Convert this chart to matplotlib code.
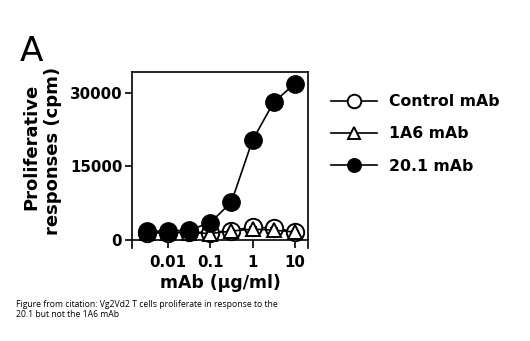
import matplotlib
matplotlib.use("Agg")
import matplotlib.pyplot as plt
from matplotlib.lines import Line2D
from matplotlib.ticker import LogLocator, NullFormatter, FixedLocator

plt.rcParams['font.family'] = ['DejaVu Sans']

# Antibody concentrations (ug/ml), half-log dilutions
conc = [0.00316, 0.01, 0.0316, 0.1, 0.316, 1.0, 3.16, 10.0]

# Proliferative responses (cpm)
control_mab = [1500, 1500, 1600, 1500, 1900, 2600, 2400, 1700]
control_err = [200, 200, 200, 300, 300, 500, 400, 300]
a1a6_mab = [1400, 1400, 1500, 1300, 1800, 2200, 2000, 1600]
a1a6_err = [200, 200, 200, 300, 300, 400, 400, 300]
mab_201 = [1800, 1800, 2000, 3500, 7700, 20300, 28000, 31800]

series_labels = ["Control mAb", "1A6 mAb", "20.1 mAb"]
y_label_lines = ["Proliferative", "responses (cpm)"]
y_ticks = [0, 15000, 30000]
x_ticks = [0.01, 0.1, 1, 10]
x_ticklabels = ["0.01", "0.1", "1", "10"]

fig = plt.figure(figsize=(5.30, 3.41), dpi=100)
ax = fig.add_axes([0.249, 0.273, 0.332, 0.516])

ms = 12.5
styles = [
    dict(marker='o', ms=ms, mfc='white', mec='black', mew=1.4),
    dict(marker='^', ms=ms * 0.85, mfc='white', mec='black', mew=1.4),
    dict(marker='o', ms=ms, mfc='black', mec='black', mew=1.0),
]

ax.errorbar(conc, control_mab, yerr=control_err, color='black', lw=1.2,
            capsize=3, elinewidth=1.0, zorder=3, **styles[0])
ax.errorbar(conc, a1a6_mab, yerr=a1a6_err, color='black', lw=1.2,
            capsize=3, elinewidth=1.0, zorder=4, **styles[1])
ax.plot(conc, mab_201, color='black', lw=1.2, zorder=5, **styles[2])

ax.set_xscale('log')
ax.set_xlim(0.0014, 20.5)
ax.set_ylim(-1630, 34200)

# Prism-style frame: x axis drawn through y = 0
ax.spines['bottom'].set_position(('data', 0))
for s in ax.spines.values():
    s.set_linewidth(1.2)

ax.xaxis.set_major_locator(FixedLocator(x_ticks))
ax.set_xticklabels(x_ticklabels)
ax.xaxis.set_minor_locator(LogLocator(base=10, subs=range(2, 10)))
ax.xaxis.set_minor_formatter(NullFormatter())
ax.set_yticks(y_ticks)
ax.set_yticklabels([str(v) for v in y_ticks])

ax.tick_params(axis='x', which='major', direction='out', length=6, width=1.2,
               labelsize=10.8, pad=5)
ax.tick_params(axis='x', which='minor', direction='out', length=3, width=1.0)
ax.tick_params(axis='y', which='major', direction='out', length=5, width=1.2,
               labelsize=10.8, pad=2)
for lbl in ax.get_xticklabels() + ax.get_yticklabels():
    lbl.set_fontweight('bold')

ax.set_xlabel("mAb (\u03bcg/ml)", fontsize=12.4, fontweight='bold', labelpad=3)

# Two-line y-axis title, one text per line
fig.text(31 / 530, 1 - 147 / 341, y_label_lines[0], rotation=90,
         ha='center', va='center', fontsize=13, fontweight='bold')
fig.text(53 / 530, 1 - 151 / 341, y_label_lines[1], rotation=90,
         ha='center', va='center', fontsize=13, fontweight='bold')

handles = [Line2D([], [], color='black', lw=1.2, **st) for st in styles]
leg = fig.legend(handles, series_labels, loc='upper left',
                 bbox_to_anchor=(331 / 530, 1 - 94 / 341),
                 frameon=False, prop={'weight': 'bold', 'size': 11.3},
                 handlelength=2.9, handletextpad=0.8, labelspacing=1.1,
                 markerscale=0.78, borderaxespad=0, borderpad=0)

fig.text(20 / 530, 1 - 61 / 341, "A", fontsize=24.7, va='baseline', ha='left')

fig.text(16 / 530, 1 - 317 / 341,
         "Figure from citation: Vg2Vd2 T cells proliferate in response to the\n"
         "20.1 but not the 1A6 mAb",
         fontsize=6.2, family=['Open Sans', 'DejaVu Sans'], va='baseline',
         ha='left', linespacing=1.15)

fig.savefig("out.png", dpi=100)
